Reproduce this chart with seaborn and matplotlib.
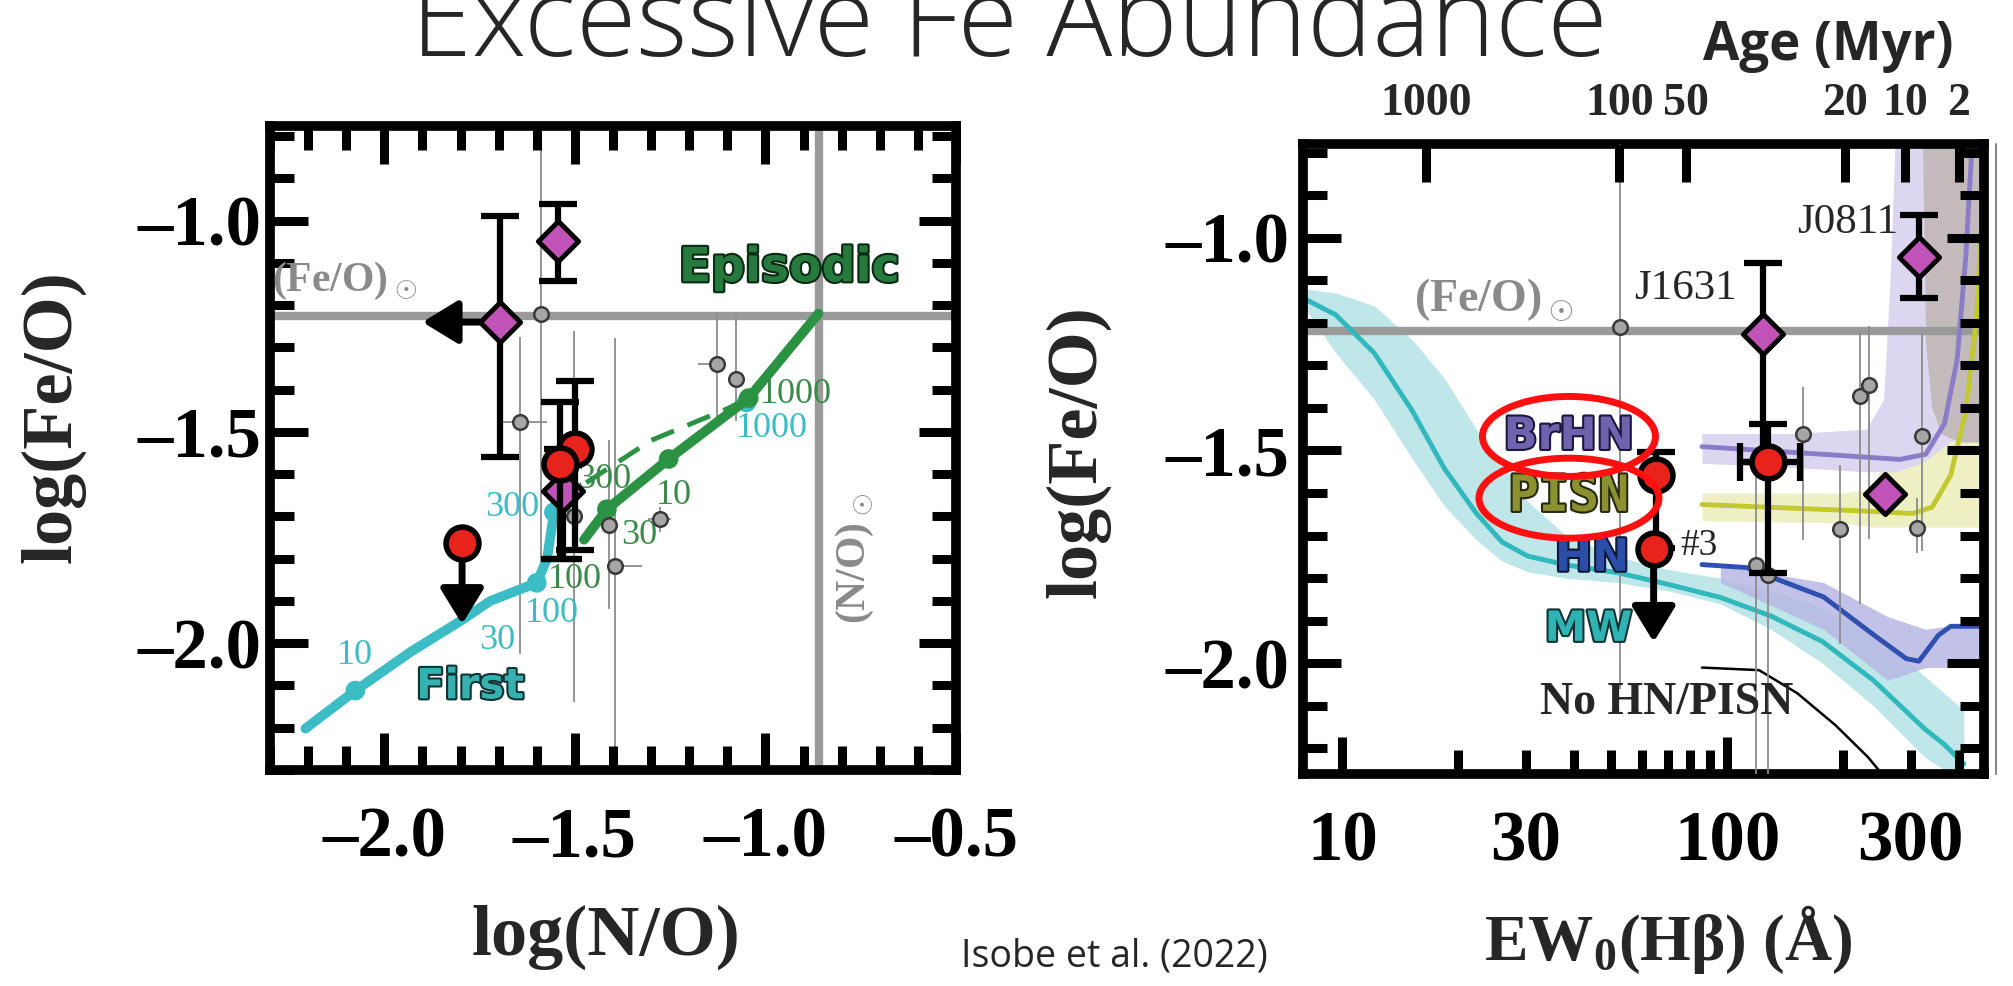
import matplotlib
matplotlib.use("Agg")
import matplotlib.pyplot as plt
import matplotlib.patheffects as pe
from matplotlib.ticker import FixedLocator, FixedFormatter, MultipleLocator, FuncFormatter, NullLocator
from matplotlib.lines import Line2D
from matplotlib.patches import Ellipse
from matplotlib.transforms import ScaledTranslation
import seaborn as sns

W, H = 2013, 986

# ---------------- left panel: log(N/O) vs log(Fe/O) ----------------
FEO_SUN_L = -1.225
NO_SUN = -0.86

first_x = [-2.207, -2.076, -1.93, -1.796, -1.722, -1.60, -1.573, -1.555]
first_y = [-2.202, -2.112, -2.02, -1.945, -1.90, -1.857, -1.80, -1.69]
first_mk_x = [-2.076, -1.60, -1.555, -1.05]
first_mk_y = [-2.112, -1.857, -1.69, -1.43]
first_lbl = ["10", "30", "100", "300", "1000"]
first_lbl_x = [-2.076, -1.704, -1.56, -1.665, -0.984]
first_lbl_y = [-2.029, -1.993, -1.929, -1.679, -1.493]

epi_x = [-1.476, -1.416, -1.254, -1.044, -0.861]
epi_y = [-1.755, -1.683, -1.564, -1.42, -1.22]
epi_dash_x = [-1.47, -1.30, -1.10, -1.044]
epi_dash_y = [-1.62, -1.52, -1.445, -1.42]
epi_mk_x = [-1.416, -1.254, -1.044]
epi_mk_y = [-1.683, -1.564, -1.42]
epi_lbl = ["100", "300", "30", "10", "1000"]
epi_lbl_x = [-1.50, -1.424, -1.332, -1.241, -0.921]
epi_lbl_y = [-1.85, -1.612, -1.745, -1.65, -1.412]

gl_x = [-1.59, -1.644, -1.503, -1.41, -1.395, -1.277, -1.128, -1.076]
gl_y = [-1.22, -1.476, -1.70, -1.72, -1.817, -1.707, -1.34, -1.374]
gl_ylo = [0.65, 0.55, 0.44, 0.20, 0.60, 0.03, 0.14, 0.10]
gl_yhi = [0.60, 0.20, 0.44, 0.20, 0.54, 0.03, 0.12, 0.15]
gl_xlo = [0.0, 0.05, 0.0, 0.0, 0.02, 0.03, 0.05, 0.0]
gl_xhi = [0.0, 0.07, 0.0, 0.0, 0.07, 0.03, 0.0, 0.0]

dl_x = [-1.53, -1.545, -1.696]
dl_y = [-1.64, -1.048, -1.24]
dl_ylo = [0.16, 0.095, 0.32]
dl_yhi = [0.10, 0.088, 0.25]
dl_lim_to = -1.90          # left arrow of the upper-left diamond

rl_x = [-1.50, -1.54]
rl_y = [-1.54, -1.576]
rl_ylo = [0.24, 0.224]
rl_yhi = [0.16, 0.146]
rl_lim_x, rl_lim_y, rl_lim_to = -1.796, -1.762, -1.955

# ---------------- right panel: EW0(Hb) vs log(Fe/O) ----------------
FEO_SUN_R = -1.22

mw_ew = [7.9, 9.6, 12.1, 15.2, 18.4, 22.3, 26.0, 30.3, 38.2, 51.9, 70.6, 95.9, 130, 177, 240, 326, 366, 412]
mw_y = [-1.142, -1.181, -1.271, -1.407, -1.542, -1.648, -1.715, -1.748, -1.769, -1.787, -1.815,
        -1.845, -1.889, -1.949, -2.04, -2.154, -2.19, -2.236]
mw_hi = [-1.12, -1.13, -1.16, -1.24, -1.33, -1.45, -1.53, -1.62, -1.70, -1.75, -1.78,
         -1.80, -1.83, -1.87, -1.93, -2.03, -2.07, -2.11]
mw_lo = [-1.16, -1.27, -1.38, -1.52, -1.63, -1.71, -1.76, -1.785, -1.80, -1.81, -1.83,
         -1.86, -1.92, -2.00, -2.10, -2.22, -2.25, -2.28]

brhn_ew = [86, 178, 281, 328, 367, 396, 417, 433]
brhn_y = [-1.491, -1.509, -1.521, -1.509, -1.437, -1.286, -1.045, -0.78]
brhn_band_ew = [86, 150, 230, 255, 265, 275, 320, 380, 465]
brhn_band_hi = [-1.46, -1.46, -1.45, -1.38, -1.10, -0.70, -0.70, -0.70, -0.70]
brhn_band_lo = [-1.53, -1.54, -1.55, -1.55, -1.55, -1.55, -1.53, -1.48, -1.45]

pisn_ew = [86, 224, 304, 341, 381, 417, 444, 457]
pisn_y = [-1.627, -1.642, -1.648, -1.633, -1.558, -1.407, -1.196, -0.985]
pisn_band_ew = [86, 200, 240, 260, 300, 465]
pisn_band_hi = [-1.60, -1.60, -1.59, -1.50, -1.30, -0.80]
pisn_band_lo = [-1.665, -1.67, -1.68, -1.68, -1.68, -1.68]

hn_ew = [86, 112, 178, 241, 292, 315, 354, 381, 465]
hn_y = [-1.768, -1.775, -1.844, -1.934, -1.989, -1.995, -1.934, -1.913, -1.913]
hn_band_ew = [96, 178, 261, 328, 465]
hn_band_hi = [-1.77, -1.81, -1.89, -1.92, -1.90]
hn_band_lo = [-1.81, -1.92, -2.04, -2.01, -2.01]

nohn_ew = [86, 121, 152, 191, 232, 258]
nohn_y = [-2.01, -2.016, -2.07, -2.145, -2.22, -2.27]

gray_ew = [322, 328, 340, 360, 400, 465]
gray_lo = [-0.78, -1.25, -1.40, -1.46, -1.48, -1.48]

gr_x = [52.6, 222, 233, 157, 320, 196, 312, 119, 128]
gr_y = [-1.21, -1.371, -1.347, -1.461, -1.467, -1.684, -1.681, -1.768, -1.793]
gr_ylo = [0.85, 0.49, 0.36, 0.25, 0.27, 0.27, 0.06, 0.50, 0.60]
gr_yhi = [0.50, 0.15, 0.14, 0.11, 0.24, 0.15, 0.07, 0.24, 0.15]

dr_x = [316, 123.6, 257]
dr_y = [-1.045, -1.226, -1.603]
dr_ylo = [0.097, 0.30, 0.0]
dr_yhi = [0.099, 0.166, 0.0]
dr_names = ["J0811", "J1631"]
dr_name_x = [206, 78]
dr_name_y = [-0.964, -1.12]

rr_x = [65.4, 128]
rr_y = [-1.558, -1.527]
rr_ylo = [0.17, 0.26]
rr_yhi = [0.055, 0.09]
rr_xlo = [0.0, 20]
rr_xhi = [0.0, 27]
rr_lim_x, rr_lim_y, rr_lim_to = 64.4, -1.732, -1.95

age_lbl = ["1000", "100", "50", "20", "10", "2"]
age_ew = [16.5, 52.5, 78, 203, 290, 400]

# ---------------- style ----------------
sns.set_theme(style="white")
plt.rcParams["font.family"] = ["Liberation Serif", "DejaVu Serif"]
plt.rcParams["font.weight"] = "bold"
plt.rcParams["axes.labelweight"] = "bold"
plt.rcParams["axes.axisbelow"] = False
plt.rcParams["mathtext.fontset"] = "custom"
plt.rcParams["mathtext.rm"] = "Liberation Serif"
plt.rcParams["mathtext.bf"] = "Liberation Serif:bold"
plt.rcParams["axes.unicode_minus"] = True

CYAN = "#3cbcc4"
GREEN = "#2a9242"
MAGENTA = "#c052b8"
RED = "#e8231c"
GREY = "#9a9a9a"
ARROW = dict(arrowstyle="-|>,head_length=0.9,head_width=0.55", color="black",
             lw=5, mutation_scale=24, shrinkA=0, shrinkB=0)


def dash_fmt(v, pos):
    return f"{v:.1f}".replace("-", "\u2013")


def style_frame(ax, pad_x, pad_y, top=True):
    for sp in ax.spines.values():
        sp.set_visible(True)
        sp.set_color("black")
        sp.set_linewidth(7)
    ax.tick_params(which="both", direction="in", bottom=True, top=top, left=True, right=True,
                   color="black", width=6.5, labelsize=51, labelcolor="black")
    ax.tick_params(which="major", length=27)
    ax.tick_params(which="minor", length=17)
    ax.tick_params(axis="x", which="both", pad=pad_x)
    ax.tick_params(axis="y", which="both", pad=pad_y)
    ax.grid(False)


def outlined(ax, x, y, s, color, edge, size, family="DejaVu Sans"):
    return ax.text(x, y, s, color=color, fontsize=size, fontweight="bold", family=family,
                   ha="center", va="center", zorder=12,
                   path_effects=[pe.withStroke(linewidth=3, foreground=edge)])


def ring(ax, x, y, w_in, h_in):
    # red ellipse centred on a label, sized in inches
    tr = fig.dpi_scale_trans + ScaledTranslation(x, y, ax.transData)
    ax.add_artist(Ellipse((0, 0), w_in, h_in, transform=tr, fill=False, ec="#ff1010",
                          lw=5, zorder=13))


fig = plt.figure(figsize=(W / 100, H / 100), dpi=100)
fig.patch.set_facecolor("white")

fig.text(411 / W, 1 - 56 / H, "Excessive Fe Abundance", fontsize=79, family="Open Sans",
         fontweight="light", ha="left", va="baseline")
fig.text(1114 / W, 1 - 956 / H, "Isobe et al. (2022)", fontsize=27, family="Open Sans",
         fontweight="normal", ha="center", va="center")

# ================= left panel =================
axL = fig.add_axes([270 / W, 1 - 770 / H, 686 / W, 644 / H])
axL.set_xlim(-2.3, -0.5)
axL.set_ylim(-2.3, -0.776)
axL.xaxis.set_major_locator(FixedLocator([-2.0, -1.5, -1.0, -0.5]))
axL.xaxis.set_minor_locator(MultipleLocator(0.1))
axL.yaxis.set_major_locator(FixedLocator([-2.0, -1.5, -1.0]))
axL.yaxis.set_minor_locator(MultipleLocator(0.1))
axL.xaxis.set_major_formatter(FuncFormatter(dash_fmt))
axL.yaxis.set_major_formatter(FuncFormatter(dash_fmt))
style_frame(axL, pad_x=26, pad_y=6)

axL.axhline(FEO_SUN_L, color=GREY, lw=6, zorder=1)
axL.axvline(NO_SUN, color=GREY, lw=6, zorder=1)
axL.text(-2.105, -1.143, r"(Fe/O)$_\odot$", color="#8a8a8a", fontsize=30, ha="center", va="center")
axL.text(-0.765, -1.80, r"(N/O)$_\odot$", color="#8a8a8a", fontsize=30, rotation=90,
         ha="center", va="center")

axL.errorbar(gl_x, gl_y, yerr=[gl_ylo, gl_yhi], xerr=[gl_xlo, gl_xhi], fmt="none",
             ecolor="#8c8c8c", elinewidth=1.3, zorder=2)

# model tracks
sns.lineplot(x=first_x, y=first_y, ax=axL, color=CYAN, lw=7, sort=False, estimator=None, zorder=3)
sns.scatterplot(x=first_mk_x, y=first_mk_y, ax=axL, color=CYAN, s=200, edgecolor="none", zorder=3)
sns.lineplot(x=epi_dash_x, y=epi_dash_y, ax=axL, color=GREEN, lw=3.5, linestyle=(0, (5, 3)),
             sort=False, estimator=None, zorder=4)
sns.lineplot(x=epi_x, y=epi_y, ax=axL, color=GREEN, lw=7, sort=False, estimator=None, zorder=4)
sns.scatterplot(x=epi_mk_x, y=epi_mk_y, ax=axL, color=GREEN, s=200, edgecolor="none", zorder=4)
for s, x, y in zip(first_lbl, first_lbl_x, first_lbl_y):
    axL.text(x, y, s, color=CYAN, fontsize=26, fontweight="normal", ha="center", va="center", zorder=5)
for s, x, y in zip(epi_lbl, epi_lbl_x, epi_lbl_y):
    axL.text(x, y, s, color="#3a8a4a", fontsize=26, fontweight="normal", ha="center", va="center", zorder=5)

sns.scatterplot(x=gl_x, y=gl_y, ax=axL, s=110, color="#a6a6a6", edgecolor="#3a3a3a",
                linewidth=1.8, zorder=6)

# diamonds
axL.errorbar(dl_x, dl_y, yerr=[dl_ylo, dl_yhi], fmt="none", ecolor="black", elinewidth=4.5,
             capsize=14, capthick=4.5, zorder=7)
axL.annotate("", xy=(dl_lim_to, dl_y[2]), xytext=(dl_x[2], dl_y[2]), arrowprops=ARROW, zorder=7)
sns.scatterplot(x=dl_x, y=dl_y, ax=axL, marker="D", s=420, color=MAGENTA, edgecolor="black",
                linewidth=3.5, zorder=8)

# red circles
axL.errorbar(rl_x, rl_y, yerr=[rl_ylo, rl_yhi], fmt="none", ecolor="black", elinewidth=4.5,
             capsize=14, capthick=4.5, zorder=9)
axL.annotate("", xy=(rl_lim_x, rl_lim_to), xytext=(rl_lim_x, rl_lim_y), arrowprops=ARROW, zorder=9)
sns.scatterplot(x=rl_x + [rl_lim_x], y=rl_y + [rl_lim_y], ax=axL, s=560, color=RED,
                edgecolor="black", linewidth=4, zorder=10)

outlined(axL, -0.937, -1.114, "Episodic", "#267a3e", "#0b2a14", 34)
outlined(axL, -1.775, -2.102, "First", "#38b0b0", "#0d3535", 30)

axL.set_xlabel("log(N/O)", fontsize=52, fontweight="bold")
axL.set_ylabel("log(Fe/O)", fontsize=52, fontweight="bold")
axL.xaxis.set_label_coords(0.49, -0.259)
axL.yaxis.set_label_coords(-0.316, 0.548)
axL.xaxis.label.set_va("center")
axL.yaxis.label.set_va("center")

# ================= right panel =================
axR = fig.add_axes([1303 / W, 1 - 774 / H, 681 / W, 630 / H])
axR.set_xscale("log")
axR.set_xlim(7.9, 465)
axR.set_ylim(-2.26, -0.78)
axR.xaxis.set_major_locator(FixedLocator([10, 100]))
axR.xaxis.set_minor_locator(FixedLocator([20, 30, 40, 50, 60, 70, 80, 90, 200, 300, 400]))
axR.xaxis.set_major_formatter(FuncFormatter(lambda v, p: f"{v:g}"))
axR.xaxis.set_minor_formatter(FuncFormatter(lambda v, p: f"{v:g}" if round(v) in (30, 300) else ""))
axR.yaxis.set_major_locator(FixedLocator([-2.0, -1.5, -1.0]))
axR.yaxis.set_minor_locator(MultipleLocator(0.1))
axR.yaxis.set_major_formatter(FuncFormatter(dash_fmt))
style_frame(axR, pad_x=26, pad_y=10, top=False)

# bands
axR.fill_between(mw_ew, mw_lo, mw_hi, color="#bfe6e8", lw=0, zorder=1)
axR.fill_between(hn_band_ew, hn_band_lo, hn_band_hi, color="#b8b8e4", alpha=0.85, lw=0, zorder=1.1)
axR.fill_between(pisn_band_ew, pisn_band_lo, pisn_band_hi, color="#eef0c4", lw=0, zorder=1.2)
axR.fill_between(brhn_band_ew, brhn_band_lo, brhn_band_hi, color="#dcd6f0", lw=0, zorder=1.3)
axR.fill_between(gray_ew, gray_lo, -0.70, color="#c3bbbb", lw=0, zorder=1.4)

axR.axhline(FEO_SUN_R, color=GREY, lw=6, zorder=1.5)
axR.text(24.7, -1.146, r"(Fe/O)$_\odot$", color="#8a8a8a", fontsize=33, ha="center", va="center")

sns.lineplot(x=mw_ew, y=mw_y, ax=axR, color="#30b8bc", lw=3.5, sort=False, estimator=None, zorder=2)
sns.lineplot(x=hn_ew, y=hn_y, ax=axR, color="#3050b0", lw=3.5, sort=False, estimator=None, zorder=2)
sns.lineplot(x=pisn_ew, y=pisn_y, ax=axR, color="#c2c830", lw=3.5, sort=False, estimator=None, zorder=2)
sns.lineplot(x=brhn_ew, y=brhn_y, ax=axR, color="#8a7cc8", lw=3.5, sort=False, estimator=None, zorder=2)
sns.lineplot(x=nohn_ew, y=nohn_y, ax=axR, color="black", lw=1.8, sort=False, estimator=None, zorder=2)

axR.errorbar(gr_x, gr_y, yerr=[gr_ylo, gr_yhi], fmt="none", ecolor="#8c8c8c", elinewidth=1.3, zorder=3)
sns.scatterplot(x=gr_x, y=gr_y, ax=axR, s=110, color="#a6a6a6", edgecolor="#3a3a3a",
                linewidth=1.8, zorder=6)

axR.errorbar(dr_x, dr_y, yerr=[dr_ylo, dr_yhi], fmt="none", ecolor="black", elinewidth=4.5,
             capsize=14, capthick=4.5, zorder=7)
sns.scatterplot(x=dr_x, y=dr_y, ax=axR, marker="D", s=420, color=MAGENTA, edgecolor="black",
                linewidth=3.5, zorder=8)
axR.errorbar(rr_x, rr_y, yerr=[rr_ylo, rr_yhi], xerr=[rr_xlo, rr_xhi], fmt="none", ecolor="black",
             elinewidth=4.5, capsize=14, capthick=4.5, zorder=9)
axR.annotate("", xy=(rr_lim_x, rr_lim_to), xytext=(rr_lim_x, rr_lim_y), arrowprops=ARROW, zorder=9)
sns.scatterplot(x=rr_x + [rr_lim_x], y=rr_y + [rr_lim_y], ax=axR, s=560, color=RED,
                edgecolor="black", linewidth=4, zorder=10)

for s, x, y in zip(dr_names, dr_name_x, dr_name_y):
    axR.text(x, y, s, fontsize=31, fontweight="normal", ha="center", va="center", zorder=11)
axR.text(84.5, -1.723, "#3", fontsize=27, fontweight="normal", ha="center", va="center", zorder=11)
axR.text(69.6, -2.094, "No HN/PISN", fontsize=33, ha="center", va="center", zorder=11)

outlined(axR, 38.8, -1.467, "BrHN", "#6f63ad", "#1c1640", 32)
outlined(axR, 38.8, -1.609, "PISN", "#8c9130", "#262810", 36, family="DejaVu Sans Mono")
outlined(axR, 44.6, -1.753, "HN", "#2c4ea8", "#0d1838", 32)
outlined(axR, 43.6, -1.919, "MW", "#2fb3b3", "#0d3434", 30)
ring(axR, 38.8, -1.467, 1.73, 0.80)
ring(axR, 38.8, -1.612, 1.80, 0.80)

axR.set_xlabel(r"EW$_\mathbf{0}$(Hβ) (Å)", fontsize=47, fontweight="bold")
axR.set_ylabel("log(Fe/O)", fontsize=52, fontweight="bold")
axR.xaxis.set_label_coords(0.537, -0.263)
axR.yaxis.set_label_coords(-0.33, 0.511)
axR.xaxis.label.set_va("center")
axR.yaxis.label.set_va("center")
axR.text(0.771, 1.155, "Age (Myr)", transform=axR.transAxes, fontsize=38, family="Open Sans",
         fontweight="bold", ha="center", va="center")

# top axis: stellar age, an overlay axes sharing the panel's box
axT = fig.add_axes(axR.get_position().bounds, frameon=False)
axT.set_zorder(axR.get_zorder() + 1)
axT.patch.set_visible(False)
axT.set_xscale("log")
axT.set_xlim(axR.get_xlim())
axT.yaxis.set_visible(False)
axT.xaxis.tick_top()
axT.xaxis.set_major_locator(FixedLocator(age_ew))
axT.xaxis.set_major_formatter(FixedFormatter(age_lbl))
axT.xaxis.set_minor_locator(NullLocator())
axT.tick_params(axis="x", which="major", direction="in", top=True, bottom=False, labeltop=True,
                labelbottom=False, length=27, width=6.5, color="black", labelsize=33, pad=14)

fig.add_artist(Line2D([1996 / W, 1996 / W], [1 - 144 / H, 1 - 774 / H], color="#888888", lw=1.5))

fig.savefig("out.png", dpi=100, facecolor="white")
